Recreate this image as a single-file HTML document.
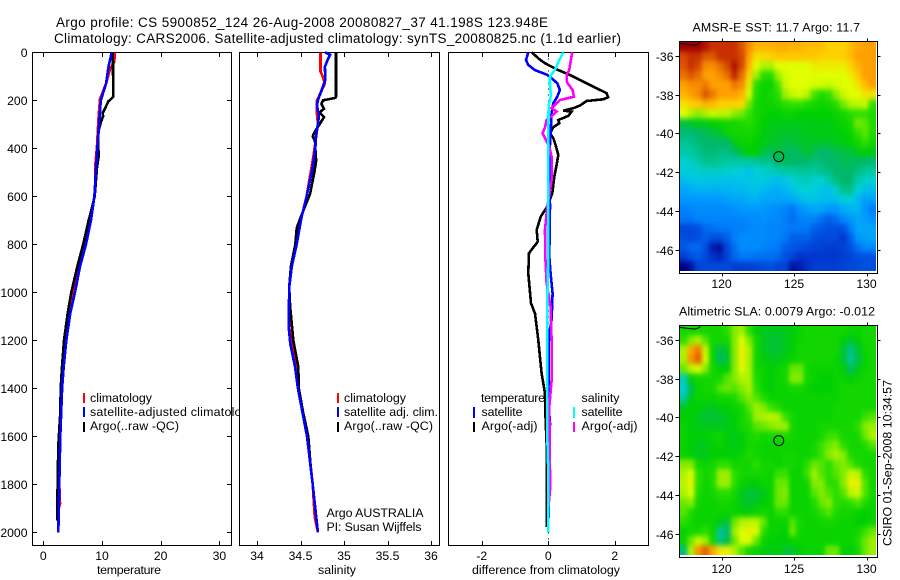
<!DOCTYPE html>
<html>
<head>
<meta charset="utf-8">
<title>Argo profile</title>
<style>
html,body{margin:0;padding:0;background:#fff;}
svg{display:block;}
text{font-family:"Liberation Sans",sans-serif;font-size:12.4px;fill:#000;}
.title{font-size:13.5px;}
</style>
</head>
<body>
<svg id="chart" width="900" height="580" viewBox="0 0 900 580" xmlns="http://www.w3.org/2000/svg">
  <defs>
    <filter id="map-soften" filterUnits="userSpaceOnUse" x="640" y="0" width="260" height="580" color-interpolation-filters="sRGB">
      <feGaussianBlur stdDeviation="2.2 2.6"/>
    </filter>
    <clipPath id="clip-sst"><rect x="680" y="42" width="196" height="229"/></clipPath>
    <clipPath id="clip-sla"><rect x="680" y="326" width="196" height="229"/></clipPath>
  </defs>
  <rect x="0" y="0" width="900" height="580" fill="#fff"/>
  <text class="title" x="56" y="27" textLength="492" lengthAdjust="spacing">Argo profile: CS 5900852_124 26-Aug-2008 20080827_37 41.198S 123.948E</text>
  <text class="title" x="54" y="43" textLength="567" lengthAdjust="spacing">Climatology: CARS2006. Satellite-adjusted climatology: synTS_20080825.nc (1.1d earlier)</text>

  <g id="panel-t">
    <g id="plot-t"></g>
    <text x="90" y="402" textLength="62">climatology</text>
    <text x="90" y="416" textLength="165">satellite-adjusted climatology</text>
    <text x="90" y="430" textLength="89">Argo(..raw -QC)</text>
    <rect x="83" y="393" width="2" height="10" fill="#f00"/>
    <rect x="83" y="407" width="2" height="10" fill="#00f"/>
    <rect x="83" y="422" width="2" height="10" fill="#000"/>
    <text x="97" y="574" textLength="64">temperature</text>
  </g>

  <g id="panel-s">
    <rect x="239" y="46" width="202" height="505" fill="#fff"/>
    <g id="plot-s"></g>
    <text x="344" y="402" textLength="62">climatology</text>
    <text x="344" y="416" textLength="94">satellite adj. clim.</text>
    <text x="344" y="430" textLength="89">Argo(..raw -QC)</text>
    <rect x="337" y="393" width="2" height="10" fill="#f00"/>
    <rect x="337" y="407" width="2" height="10" fill="#00f"/>
    <rect x="337" y="422" width="2" height="10" fill="#000"/>
    <text x="326.5" y="517" textLength="97">Argo AUSTRALIA</text>
    <text x="326.5" y="531" textLength="95">PI: Susan Wijffels</text>
    <text x="318" y="574" textLength="38">salinity</text>
  </g>

  <g id="panel-d">
    <g id="plot-d"></g>
    <text x="481" y="402" textLength="64">temperature</text>
    <text x="481.5" y="416" textLength="41">satellite</text>
    <text x="481.5" y="430" textLength="56">Argo(-adj)</text>
    <text x="581.5" y="402" textLength="38">salinity</text>
    <text x="581.5" y="416" textLength="41">satellite</text>
    <text x="581.5" y="430" textLength="56">Argo(-adj)</text>
    <rect x="473" y="407" width="2" height="11" fill="#00f"/>
    <rect x="473" y="422" width="2" height="10" fill="#000"/>
    <rect x="573" y="407" width="2" height="11" fill="#0ff"/>
    <rect x="573" y="422" width="2" height="10" fill="#f0f"/>
    <text x="472" y="574" textLength="148">difference from climatology</text>
  </g>

  <g id="map-sst"></g>
  <g id="map-sla"></g>
  <text x="692.5" y="31.5" textLength="167.5">AMSR-E SST: 11.7 Argo: 11.7</text>
  <text x="679" y="315.5" textLength="196">Altimetric SLA: 0.0079 Argo: -0.012</text>
  <text transform="translate(891.5,546) rotate(-90)" textLength="166">CSIRO 01-Sep-2008 10:34:57</text>
</svg>

<script>
/* ---------- profile data ---------- */
const depthTicks = [0,200,400,600,800,1000,1200,1400,1600,1800,2000];
const tempTicks = [0,10,20,30];
const salTicks = [34,34.5,35,35.5,36];
const salTickLabels = ['34','34.5','35','35.5','36'];
const diffTicks = [-2,0,2];

const tempClimDepth = [0,40,70,130,195,260,390,460,520,600,685,800,893,1000,1100,1200,1310,1400,1600,1800,1880,1900,2000];
const tempClimValues = [12.2,12.1,11.36,10.7,9.66,9.43,9.15,8.9,8.9,8.7,8.07,7.2,6.2,5.0,4.43,3.9,3.47,3.2,2.9,2.73,2.85,2.65,2.56];
const tempArgoDepth = [0,185,195,205,235,255,265,290,330,400,430,480,600,680,699,800,893,1000,1087,1200,1310,1400,1500,1640,1880,1950];
const tempArgoValues = [11.85,11.9,11.53,11.07,10.5,10.1,10.2,9.83,9.37,9.37,9.45,9.15,8.75,7.95,7.73,6.8,5.8,4.77,4.15,3.53,3.18,2.96,2.9,2.56,2.39,2.39];
const tempSatDepth = [0,60,130,200,325,400,520,600,699,800,893,1000,1087,1200,1310,1400,1600,1800,2000];
const tempSatValues = [11.65,11.1,10.7,9.8,9.43,9.2,8.9,8.7,8.12,7.27,6.25,5.4,4.6,3.92,3.47,3.2,2.9,2.73,2.56];

const salClimDepth = [0,80,100,130,170,200,240,300,430,600,690,800,893,980,1145,1215,1310,1400,1600,1800,1935,2000];
const salClimValues = [34.73,34.73,34.755,34.78,34.73,34.69,34.685,34.7,34.65,34.57,34.51,34.45,34.40,34.37,34.37,34.395,34.445,34.475,34.58,34.64,34.663,34.7];
const salArgoDepth = [0,185,190,200,215,235,250,270,300,330,350,370,430,450,500,590,680,699,733,800,893,980,1057,1200,1310,1400,1500,1600,1740,1800];
const salArgoValues = [34.908,34.908,34.9,34.76,34.74,34.77,34.72,34.77,34.72,34.667,34.64,34.667,34.675,34.68,34.66,34.61,34.51,34.49,34.456,34.44,34.39,34.37,34.38,34.417,34.475,34.48,34.53,34.59,34.62,34.64];
const salSatDepth = [0,10,25,60,110,120,160,200,220,270,300,340,400,440,500,600,690,800,893,980,1145,1215,1310,1400,1600,1800,2000];
const salSatValues = [34.78,34.84,34.82,34.78,34.785,34.78,34.74,34.70,34.69,34.71,34.70,34.68,34.67,34.655,34.63,34.57,34.51,34.456,34.40,34.37,34.364,34.383,34.437,34.47,34.575,34.64,34.70];

const diffTempArgoDepth = [0,25,46,74,94,115,143,170,187,196,203,222,233,243,247,265,282,296,312,337,358,386,428,469,518,587,643,685,740,789,837,921,1046,1088,1199,1338,1421,1532,1630,1977];
const diffTempArgoValues = [-0.5,-0.3,-0.1,0.3,0.65,0.95,1.35,1.75,1.8,1.65,1.15,0.95,0.75,0.45,0.7,0.6,0.3,0.33,0.15,0.05,0.15,0.22,0.3,0.25,0.18,0.12,-0.03,-0.23,-0.35,-0.32,-0.58,-0.6,-0.52,-0.4,-0.3,-0.2,-0.1,-0.08,-0.05,-0.05];
const diffTempSatDepth = [0,32,53,74,94,108,129,157,185,212,254,337,435,643,851,921,1004,1115,1185,1449,1546,1980];
const diffTempSatValues = [-0.6,-0.67,-0.6,-0.4,-0.03,0.1,0.27,0.35,0.27,0.15,0.1,0.07,0.03,0.05,0.03,0.07,0.13,0.1,0.02,0,0.05,0];
const diffSalArgoDepth = [0,32,74,94,122,157,185,199,212,233,247,265,282,312,337,365,393,435,532,643,740,851,962,1060,1199,1366,1477,1755,1824,1900];
const diffSalArgoValues = [0.72,0.68,0.63,0.55,0.55,0.73,0.77,0.35,0.25,0.1,0.25,0.1,-0.05,-0.1,-0.17,-0.07,0.03,0.1,0.1,-0.03,-0.1,-0.09,-0.05,0.07,0.1,0.1,0.03,0.05,0.05,0];
const diffSalSatDepth = [0,32,74,100,143,178,226,365,643,851,1032,1600,1750,2000];
const diffSalSatValues = [0.45,0.33,0.2,0.05,0.05,0.08,0.01,0,0,0,-0.03,-0.03,0,0];

/* ---------- map data ---------- */
const mapLonTicks = [120,125,130];
const mapLatTicks = [-36,-38,-40,-42,-44,-46];
const argoLon = 123.948;
const argoLat = -41.198;
const coastLon = [117.1,117.8,118.2,118.5,118.5];
const coastLat = [-35.35,-35.41,-35.43,-35.35,-35.26];
const colourStops = [0,.059,.118,.176,.235,.294,.353,.412,.471,.529,.588,.647,.706,.765,.824,.882,.941,1];
const colourValues = ['#000080','#0030c8','#0050e0','#0078f8','#0098ff','#00b8f0','#00d0d8','#00c8a0','#00b868','#00d000','#30e000','#a0f000','#e0ff00','#ffd000','#ffa000','#e87000','#c83000','#a00000'];

const sstGrid = [
[16.5,16.5,16.5,16.3,16,16,16,16,15.7,15.2,14.8,14.8,14.8,14.9,14.9,14.8,14.8,14.7,14.7,14.7,14.5,14.5,14.5,14.7,14.9,15,15],
[15.8,16,16,15.7,15.7,16,16,16,15.8,15,14.4,14.4,14.5,14.6,14.6,14.6,14.6,14.6,14.6,14.5,14.5,14.5,14.5,14.7,15,15,15],
[15.7,16,15.8,15.2,15.2,15.5,15.8,16.3,15.8,14.8,14,13.6,13.6,14,14,14,14,14,14.2,14.2,14.2,14.2,14.2,14.5,14.8,15,15],
[15.5,15.7,15.5,15,15,15.2,15.5,16.1,15.5,14.5,13.5,12.9,12.9,13.5,13.9,14,14,14,14,14,14,14,14,14.2,14.6,15,15],
[15,15.2,15.2,15.4,15,15,15,15.4,15.2,14.2,12.9,12.6,12.6,13.1,13.8,14,14,14,13.9,13.9,13.8,13.9,14,14,14.3,14.7,15],
[14.8,15,15.2,15.7,15.4,15,15,15,14.8,13.9,12.8,12.6,12.7,12.9,13.5,13.8,13.9,13.7,13.1,12.8,13,13.4,13.8,14,14,14.3,14.3],
[14.3,14.5,14.6,14.8,14.7,14.5,14.5,14.5,14.4,13.3,12.7,12.6,12.6,12.7,12.9,13,13,12.8,12.7,12.6,12.7,12.9,13.3,13.6,13.7,13.8,13],
[14,13.6,13.4,13.6,13.8,13.7,13.7,13.4,13.3,13,12.7,12.6,12.5,12.5,12.6,12.6,12.5,12.5,12.5,12.5,12.5,12.6,12.7,12.9,13,13,12.8],
[12.2,12.3,12.4,12.4,12.5,12.6,12.7,12.7,12.8,12.9,12.7,12.5,12.4,12.4,12.4,12.4,12.4,12.4,12.4,12.4,12.4,12.5,12.6,12.7,13.3,13.2,12.8],
[11.9,11.9,12,12.1,12.2,12.3,12.6,12.7,12.7,12.7,12.6,12.4,12.4,12.3,12.3,12.3,12.3,12.4,12.4,12.4,12.4,12.4,12.5,12.6,13,13.2,12.8],
[11.6,11.7,11.9,12,12,12,12,12.4,12.6,12.6,12.5,12.4,12.3,12.3,12.2,12.2,12.3,12.3,12.3,12.3,12.3,12.4,12.4,12.5,12.7,13,12.7],
[11.4,11.5,11.7,11.9,11.9,11.8,11.8,12,12.3,12.5,12.5,12.2,12.1,12.2,12.1,12,12.1,12.3,12.1,12,12,12.1,12.2,12.2,12.4,12.5,12.4],
[11.1,11.2,11.4,11.7,11.7,11.6,11.5,11.5,11.5,11.5,11.6,11.7,11.7,12,12.1,12,12,12,11.8,11.9,12,12,12.1,12.1,12,12,11.9],
[10.9,10.9,11.1,11.2,11.2,11.2,11.1,11,10.9,10.7,11,11.1,11.2,11.4,11.5,11.5,11.6,11.6,11.5,11.7,11.8,12,12,12,11.8,11.6,11.5],
[10.6,10.7,10.8,10.8,10.7,10.7,10.7,10.7,10.8,10.8,10.8,10.9,10.7,10.6,10.8,11,11.2,11.3,11.1,11,11.4,11.8,12,12,11.4,11.2,11],
[10.2,10.3,10.4,10.4,10.4,10.4,10.4,10.5,10.5,10.6,10.7,10.5,10.4,10.3,10.5,10.7,11,11,11,10.7,10.7,11.1,11.7,11.7,11,10.6,10.6],
[10,10,10,10,10,10,10.1,10.2,10.2,10.4,10.4,10.2,10.2,10.2,10.2,10.3,10.5,10.7,10.7,10.6,10.6,10.6,11,11,10.5,10.1,10.2],
[9.6,9.7,9.8,9.8,9.8,9.8,9.8,9.9,10,10,10,10,9.9,9.8,9.7,9.5,9.9,10.1,10.2,10.2,10,10,10.3,10.4,10.5,9.9,9.6],
[9.5,9.5,9.7,9.7,9.7,9.7,9.7,9.7,9.7,9.8,9.8,9.9,9.8,9.8,9.6,9.4,9.6,9.7,9.7,9.4,9.2,9.4,9.8,10,10.2,10.1,9.9],
[8.9,8.9,9,9.3,9.4,9.5,9.5,9.6,9.6,9.7,9.8,9.8,9.7,9.7,9.6,9.5,9.5,9.5,9.2,9.1,9,9,9,9.6,10.2,10.2,10.2],
[9,8.9,9,9.2,9,9,9.2,9.6,9.8,9.8,9.8,9.8,9.7,9.7,9.5,9.2,9.2,9.2,9,8.9,8.9,8.9,8.6,9.2,10,10.1,10.2],
[9.1,9.3,9.3,9,8.3,8.2,8.9,9.4,9.8,9.8,9.8,9.7,9.6,9.5,9.2,9.1,9,8.9,8.8,8.8,8.7,8.7,8.8,9,9.4,9.8,9.8],
[8.7,9,9.1,8.9,8.5,8.4,8.8,9.3,9.5,9.5,9.4,9.4,9.4,9.3,9,8.8,8.5,8.6,8.6,8.6,8.6,8.6,8.7,8.8,9,9,9],
[8,8.2,8.8,8.9,8.9,8.9,8.9,8.7,8.7,8.7,8.8,8.9,9,8.8,8.8,8.2,8.3,8.5,8.7,8.7,8.7,8.7,8.8,8.9,8.9,9,9]
];

const slaGridCm = [
[4,4,4,4,4,4,6,10,11,6,2,1,1,1,1,2,3,4,4,4,4,4,4,3,3,4,4],
[6,10,12,8,4,4,4,10,15,10,4,1,0,0,1,2,3,4,4,4,4,4,2,0,2,4,4],
[12,24,28,14,3,-1,1,10,17,12,4,1,0,0,1,2,4,4,4,4,4,4,0,-5,0,3,4],
[12,26,30,15,3,-2,0,10,17,12,4,2,1,1,2,3,4,4,4,4,4,3,0,-6,-1,3,4],
[9,13,15,10,4,2,2,10,15,12,4,3,2,3,4,9,9,4,3,3,3,3,2,-2,1,3,4],
[-9,2,4,4,4,4,8,10,12,12,5,3,2,3,4,10,10,4,3,2,2,3,3,2,3,4,4],
[-12,-1,3,4,4,8,9,8,10,12,6,3,2,3,3,4,4,3,2,2,2,3,4,4,4,4,4],
[-7,1,3,3,3,4,4,5,8,10,8,5,3,3,3,3,3,3,3,3,3,3,4,4,4,4,4],
[1,2,2,1,1,2,2,3,4,8,11,10,7,5,3,3,3,3,3,3,3,4,4,4,4,4,4],
[2,2,1,0,0,0,1,2,4,6,11,12,13,12,7,4,3,3,3,3,3,4,4,4,4,7,8],
[3,2,1,1,1,1,1,2,4,5,8,9,10,11,11,4,3,3,3,4,4,4,4,4,6,10,11],
[3,2,2,2,3,4,2,1,2,4,5,4,4,4,5,4,3,3,3,4,7,7,4,4,4,9,12],
[3,2,1,1,2,3,2,1,2,4,4,3,3,3,3,3,3,3,4,7,9,10,6,4,4,5,8],
[3,2,1,1,2,2,2,2,3,5,4,3,3,3,4,4,3,3,4,7,10,12,10,5,4,4,4],
[10,10,4,3,4,6,6,4,4,4,6,4,4,3,4,4,3,6,9,8,6,9,10,8,5,4,4],
[12,15,6,4,5,11,11,6,4,4,4,4,3,7,7,3,3,7,11,8,6,8,10,14,13,6,4],
[13,17,6,3,5,11,11,6,3,2,2,3,3,9,9,3,3,4,10,10,6,6,10,17,17,8,4],
[12,15,5,3,4,6,6,4,1,0,0,1,3,9,10,3,3,3,8,10,8,6,8,13,14,8,4],
[9,10,4,3,3,4,4,3,1,0,1,2,3,9,9,3,3,3,5,9,10,6,5,6,8,5,3],
[8,5,3,3,3,3,3,3,2,2,3,4,3,6,6,3,3,3,4,6,8,5,4,4,3,2,3],
[6,4,3,3,3,1,0,9,12,13,13,9,3,3,3,8,4,3,3,4,4,4,3,3,2,2,3],
[3,4,4,6,3,-6,-3,11,15,17,15,6,3,3,2,9,4,3,3,3,3,3,3,3,4,7,9],
[3,9,14,11,4,-5,-1,9,15,15,9,3,2,2,2,3,3,3,3,3,3,3,3,3,5,9,11],
[-4,12,26,30,24,18,17,12,8,4,3,2,1,2,0,0,2,3,3,3,9,9,2,2,4,9,11]
];

/* ---------- scales ---------- */
const NS = 'http://www.w3.org/2000/svg';
function yDepth(d){ return 52.3 + 0.24 * d; }
function xTemp(t){ return 43.3 + 5.87 * t; }
function xSal(s){ return 257 + 87 * (s - 34); }
function xDiff(v){ return 548.3 + 33.25 * v; }
function sstToUnit(v){ return (v - 8) / 8.5; }
function slaToUnit(cm){ return (cm + 38) / 76; }

function make(parent, tag, attrs, name){
  const el = document.createElementNS(NS, tag);
  for (const k in attrs) el.setAttribute(k, attrs[k]);
  
  
  parent.appendChild(el);
  return el;
}
function hexToRgb(h){ return [parseInt(h.slice(1,3),16),parseInt(h.slice(3,5),16),parseInt(h.slice(5,7),16)]; }
function colourFor(t){
  t = Math.max(0, Math.min(1, t));
  for (let i = 1; i < colourStops.length; i++){
    if (t <= colourStops[i]){
      const f = (t - colourStops[i-1]) / (colourStops[i] - colourStops[i-1]);
      const a = hexToRgb(colourValues[i-1]), b = hexToRgb(colourValues[i]);
      return 'rgb(' + a.map((c,j)=>Math.round(c + (b[j]-c)*f)).join(',') + ')';
    }
  }
  return colourValues[colourValues.length-1];
}
function line(parent, x1, y1, x2, y2, name){
  return make(parent, 'line', {x1:x1,y1:y1,x2:x2,y2:y2,stroke:'#000','stroke-width':1,'shape-rendering':'crispEdges'}, name);
}
function label(parent, x, y, txt, anchor, name){
  const t = make(parent, 'text', {x:x,y:y,'text-anchor':anchor,'font-size':'12.2px',style:'font-size:12.2px'}, name);
  t.textContent = txt;
  return t;
}
function series(parent, depth, values, xFn, colour, name){
  const pts = depth.map((d,i)=> xFn(values[i]).toFixed(1) + ',' + yDepth(d).toFixed(1)).join(' ');
  return make(parent, 'polyline', {points:pts,fill:'none',stroke:colour,'stroke-width':2.6,'stroke-linejoin':'miter','shape-rendering':'crispEdges'}, name);
}
function frame(parent, l, r, t, b, prefix){
  make(parent, 'rect', {x:l,y:t,width:r-l,height:b-t,fill:'none',stroke:'#000','stroke-width':1,'shape-rendering':'crispEdges'}, prefix + '-frame');
}
function xAxis(parent, ticks, labels, xFn, prefix){
  ticks.forEach((v,i)=>{
    const x = Math.round(xFn(v)) + 0.5;
    line(parent, x, 52.5, x, 57, prefix + '-top-tick');
    line(parent, x, 541, x, 545.5, prefix + '-bottom-tick');
    label(parent, xFn(v), 560, labels[i], 'middle', prefix + '-tick-label');
  });
}

/* ---------- temperature panel ---------- */
const plotT = document.getElementById('plot-t');
frame(plotT, 32.5, 231.5, 52.5, 545.5, 'temperature-axes');
depthTicks.forEach(d=>{
  const y = Math.round(yDepth(d)) + 0.5;
  line(plotT, 32.5, y, 37, y, 'depth-left-tick');
  line(plotT, 227, y, 231.5, y, 'depth-right-tick');
  label(plotT, 27.5, y + 4.5, String(d), 'end', 'depth-tick-label');
});
xAxis(plotT, tempTicks, tempTicks.map(String), xTemp, 'temperature');
series(plotT, tempClimDepth, tempClimValues, xTemp, '#f00', 'temperature-climatology-line');
series(plotT, tempArgoDepth, tempArgoValues, xTemp, '#000', 'temperature-argo-line');
series(plotT, tempSatDepth, tempSatValues, xTemp, '#00f', 'temperature-satellite-line');

/* ---------- salinity panel ---------- */
const plotS = document.getElementById('plot-s');
frame(plotS, 239.5, 439.5, 52.5, 545.5, 'salinity-axes');
xAxis(plotS, salTicks, salTickLabels, xSal, 'salinity');
series(plotS, salClimDepth, salClimValues, xSal, '#f00', 'salinity-climatology-line');
series(plotS, salArgoDepth, salArgoValues, xSal, '#000', 'salinity-argo-line');
series(plotS, salSatDepth, salSatValues, xSal, '#00f', 'salinity-satellite-line');

/* ---------- difference panel ---------- */
const plotD = document.getElementById('plot-d');
frame(plotD, 448.5, 648.5, 52.5, 545.5, 'difference-axes');
xAxis(plotD, diffTicks, diffTicks.map(String), xDiff, 'difference');
make(plotD, 'line', {x1:xDiff(0),y1:52.5,x2:xDiff(0),y2:545,stroke:'#000','stroke-width':1,'stroke-dasharray':'1 5','shape-rendering':'crispEdges'}, 'zero-reference-line');
series(plotD, diffTempArgoDepth, diffTempArgoValues, xDiff, '#000', 'difference-temperature-argo-line');
series(plotD, diffTempSatDepth, diffTempSatValues, xDiff, '#00f', 'difference-temperature-satellite-line');
series(plotD, diffSalArgoDepth, diffSalArgoValues, xDiff, '#f0f', 'difference-salinity-argo-line');
series(plotD, diffSalSatDepth, diffSalSatValues, xDiff, '#0ff', 'difference-salinity-satellite-line');

/* ---------- maps ---------- */
function xLon(lon){ return 721.5 + 14.5 * (lon - 120); }
function drawMap(groupId, clipId, grid, toUnit, top, bottom, imgTop, imgBottom, y36, labelY, prefix){
  const g = document.getElementById(groupId);
  const yLat = lat => y36 + 19.35 * (-36 - lat);
  const rows = grid.length, cols = grid[0].length;
  const x0 = 680, cw = 196 / cols, ch = (imgBottom - imgTop) / rows, pad = 14;
  const clip = make(g, 'g', {'clip-path':'url(#' + clipId + ')'}, prefix + '-image');
  const soft = make(clip, 'g', {filter:'url(#map-soften)'}, prefix + '-cells');
  grid.forEach((row,r)=>row.forEach((v,c)=>{
    /* edge cells run past the clip so the softening keeps full colour at the border */
    const left = c === 0 ? pad : 0, right = c === cols-1 ? pad : 0;
    const up = r === 0 ? pad : 0, down = r === rows-1 ? pad : 0;
    make(soft, 'rect', {
      x:(x0 + c*cw - left).toFixed(2),
      y:(imgTop + r*ch - up).toFixed(2),
      width:(cw + 0.4 + left + right).toFixed(2),
      height:(ch + 0.4 + up + down).toFixed(2),
      fill:colourFor(toUnit(v)),
      'shape-rendering':'crispEdges'
    }, prefix + '-cell');
  }));
  make(g, 'rect', {x:679.5,y:top,width:198,height:bottom-top,fill:'none',stroke:'#000','stroke-width':1,'shape-rendering':'crispEdges'}, prefix + '-frame');
  mapLonTicks.forEach(lon=>{
    const x = Math.round(xLon(lon)) + 0.5;
    line(g, x, top-3, x, top, prefix + '-top-tick');
    line(g, x, bottom, x, bottom+3, prefix + '-bottom-tick');
    label(g, xLon(lon), labelY, String(lon), 'middle', prefix + '-longitude-label');
  });
  mapLatTicks.forEach(lat=>{
    const y = Math.round(yLat(lat)) + 0.5;
    line(g, 675.5, y, 679.5, y, prefix + '-left-tick');
    line(g, 877.5, y, 880.5, y, prefix + '-right-tick');
    label(g, 673.5, y + 4.5, String(lat), 'end', prefix + '-latitude-label');
  });
  const coast = coastLon.map((lon,i)=> xLon(lon).toFixed(1) + ',' + yLat(coastLat[i]).toFixed(1)).join(' ');
  make(g, 'polyline', {points:coast,fill:'none',stroke:'#000','stroke-width':1}, prefix + '-coastline');
  make(g, 'circle', {cx:xLon(argoLon),cy:yLat(argoLat),r:5,fill:'none',stroke:'#000','stroke-width':1}, prefix + '-argo-position-marker');
}
drawMap('map-sst', 'clip-sst', sstGrid, sstToUnit, 41.5, 273.5, 42, 271, 56, 288, 'sst-map');
drawMap('map-sla', 'clip-sla', slaGridCm, slaToUnit, 325.5, 557.5, 326, 555, 340, 573, 'sla-map');
</script>
</body>
</html>
